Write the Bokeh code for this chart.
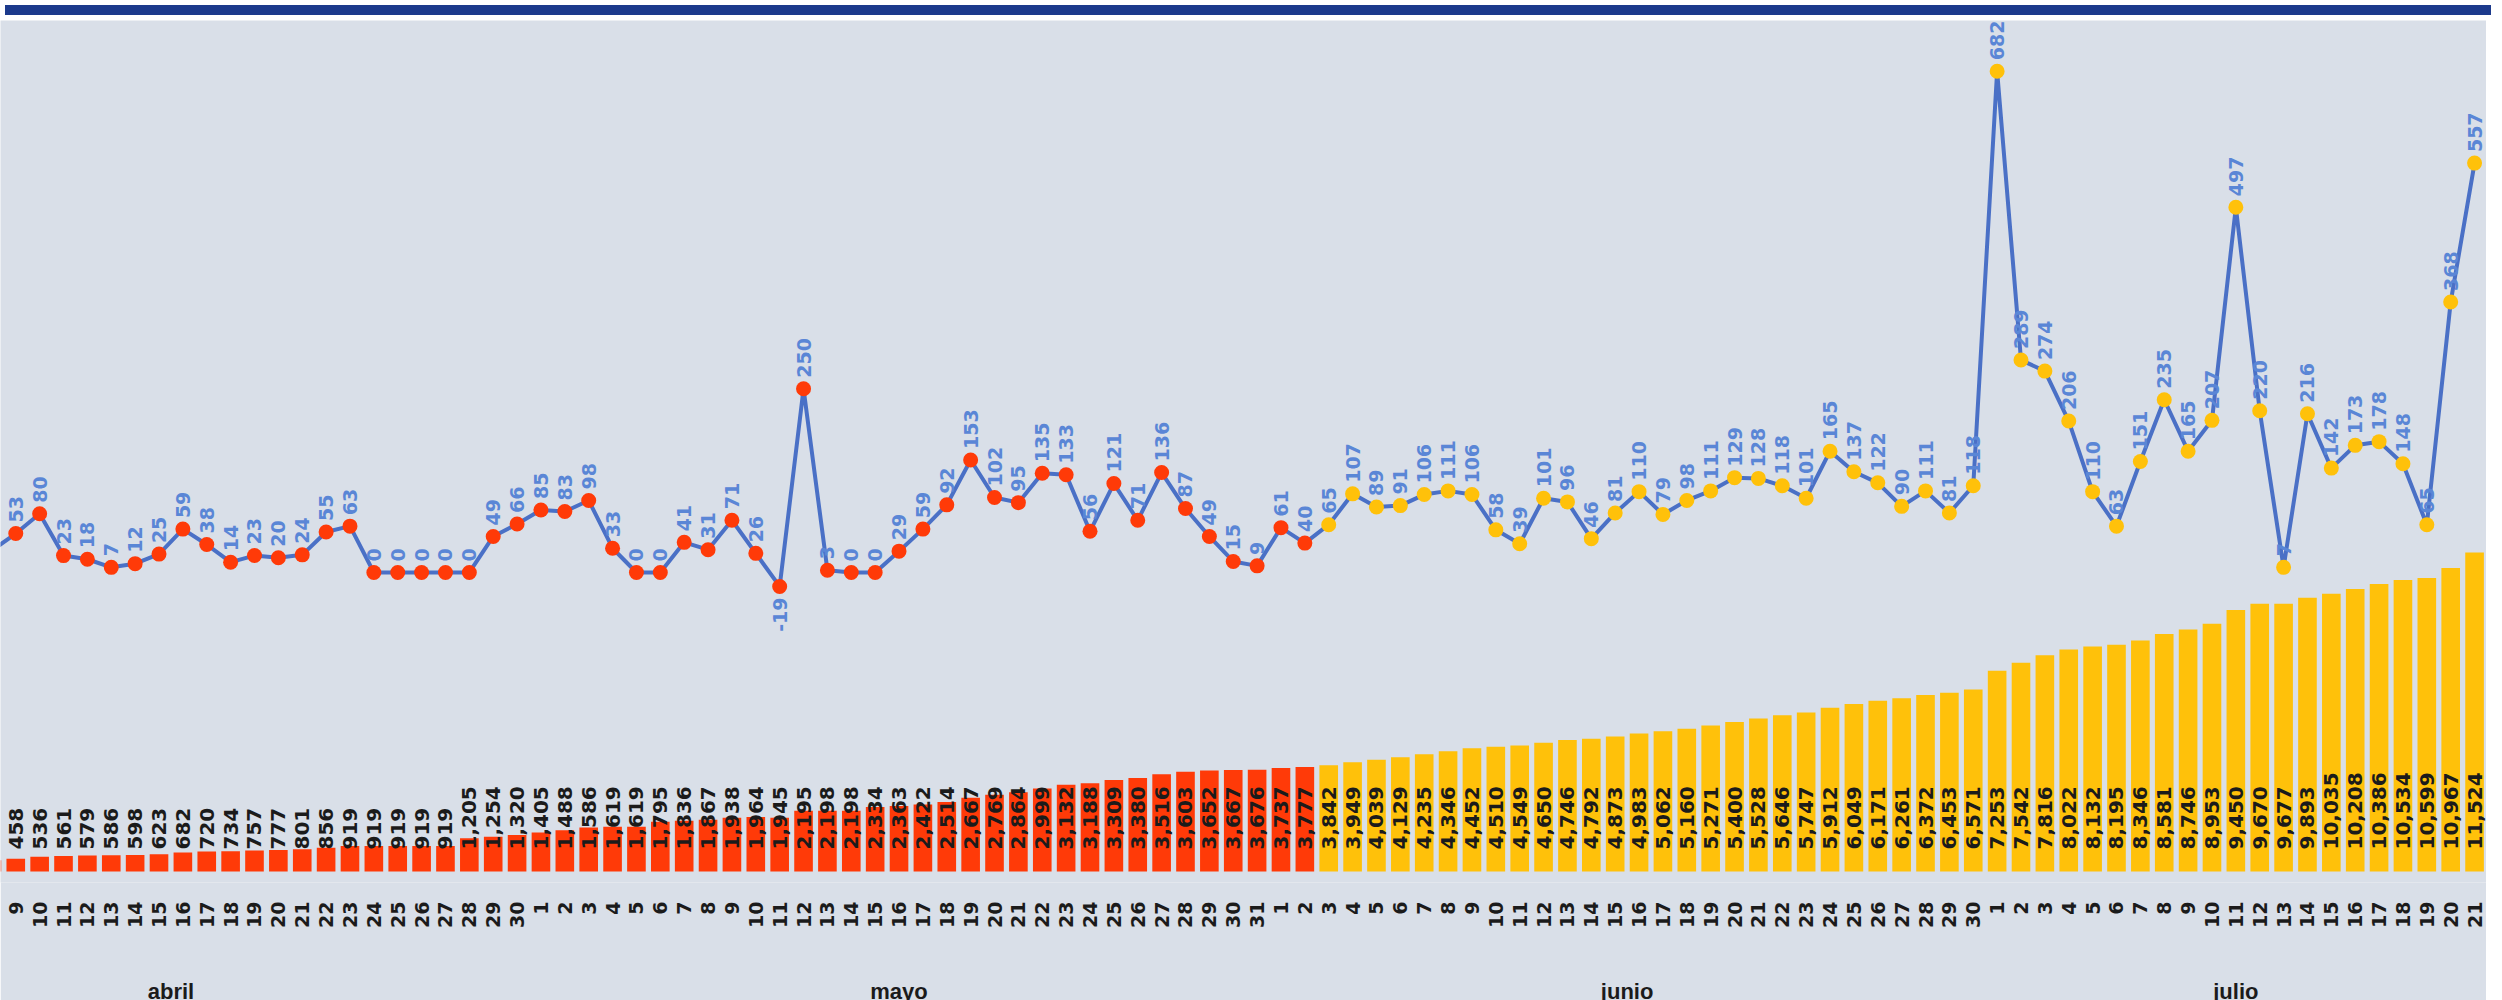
import numpy as np
import pandas as pd
from bokeh.plotting import figure
from bokeh.models import Range1d, LinearAxis, FixedTicker, ColumnDataSource, Div, LabelSet
from bokeh.layouts import column
from bokeh.embed import file_html
from bokeh.resources import INLINE
from bokeh.core.properties import value

# ---------------- data ----------------
fecha_inicio = "2020-04-08"
fecha_fin = "2020-07-21"
fecha_cambio_color = "2020-06-03"
meses = ["abril", "mayo", "junio", "julio"]

# daily new cases (line), Apr 8 .. Jul 21
diarios = [30,
           53, 80, 23, 18, 7, 12, 25, 59, 38, 14, 23, 20, 24, 55, 63, 0, 0, 0, 0, 0, 49, 66,
           85, 83, 98, 33, 0, 0, 41, 31, 71, 26, -19, 250, 3, 0, 0, 29, 59, 92, 153, 102,
           95, 135, 133, 56, 121, 71, 136, 87, 49, 15, 9,
           61, 40, 65, 107, 89, 91, 106, 111, 106, 58, 39, 101, 96, 46, 81, 110, 79, 98,
           111, 129, 128, 118, 101, 165, 137, 122, 90, 111, 81, 118,
           682, 289, 274, 206, 110, 63, 151, 235, 165, 207, 497, 220, 7, 216, 142, 173,
           178, 148, 65, 368, 557]

# cumulative cases (bars), Apr 8 .. Jul 21
acumulado = [405,
             458, 536, 561, 579, 586, 598, 623, 682, 720, 734, 757, 777, 801, 856, 919, 919,
             919, 919, 919, 1205, 1254, 1320,
             1405, 1488, 1586, 1619, 1619, 1795, 1836, 1867, 1938, 1964, 1945, 2195, 2198,
             2198, 2334, 2363, 2422, 2514, 2667, 2769, 2864, 2999, 3132, 3188, 3309, 3380,
             3516, 3603, 3652, 3667, 3676,
             3737, 3777, 3842, 3949, 4039, 4129, 4235, 4346, 4452, 4510, 4549, 4650, 4746,
             4792, 4873, 4983, 5062, 5160, 5271, 5400, 5528, 5646, 5747, 5912, 6049, 6171,
             6261, 6372, 6453, 6571,
             7253, 7542, 7816, 8022, 8132, 8195, 8346, 8581, 8746, 8953, 9450, 9670, 9677,
             9893, 10035, 10208, 10386, 10534, 10599, 10967, 11524]

# ---------------- style ----------------
BG = "#d9dfe8"
NAVY = "#1c3a8c"
ROJO = "#ff3a08"
AMARILLO = "#ffc10a"
AZUL_LINEA = "#4a70c6"
AZUL_ETIQ = "#5a86d6"
TXT = "#1b1b1b"
FUENTE = "DejaVu Sans"

fechas = pd.date_range(fecha_inicio, fecha_fin)
n = len(fechas)
xs = np.arange(n)
colores = [ROJO if f < pd.Timestamp(fecha_cambio_color) else AMARILLO for f in fechas]

X0, X1 = 0.36, 104.5
src = ColumnDataSource(dict(x=xs, acum=acumulado, diario=diarios, color=colores))

d_arr = np.array(diarios)
visible = xs >= X0
pos = visible & (d_arr >= 0)
neg = visible & (d_arr < 0)
lab_bar = ColumnDataSource(dict(x=xs[visible],
                                txt=[f"{v:,}" for v, ok in zip(acumulado, visible) if ok]))
lab_pos = ColumnDataSource(dict(x=xs[pos], y=d_arr[pos], txt=[str(v) for v in d_arr[pos]]))
lab_neg = ColumnDataSource(dict(x=xs[neg], y=d_arr[neg], txt=[str(v) for v in d_arr[neg]]))

p = figure(frame_width=2486, frame_height=862,
           x_range=Range1d(X0, X1), y_range=Range1d(-398, 30744),
           output_backend="svg", toolbar_location=None,
           x_axis_location=None, y_axis_location=None,
           background_fill_color=BG, border_fill_color=BG,
           outline_line_color=None, min_border=0)
p.extra_y_ranges = {"linea": Range1d(-421.8, 751)}
p.xgrid.grid_line_color = None
p.ygrid.grid_line_color = None

# bars
p.vbar(x="x", top="acum", width=0.78, fill_color="color", line_color=None, source=src)

# bar labels
p.add_layout(LabelSet(x="x", y=0, text="txt", source=lab_bar, angle=np.pi / 2,
                      text_align="left", text_baseline="middle", y_offset=22,
                      text_font=value(FUENTE), text_font_style="bold",
                      text_font_size="20px", text_color=TXT))

# line + markers
p.line(x="x", y="diario", source=src, y_range_name="linea",
       line_color=AZUL_LINEA, line_width=4)
p.scatter(x="x", y="diario", source=src, y_range_name="linea", size=15,
          fill_color="color", line_color=None)

# line labels
p.add_layout(LabelSet(x="x", y="y", text="txt", source=lab_pos, y_range_name="linea",
                      angle=np.pi / 2, text_align="left", text_baseline="middle",
                      y_offset=11, text_font=value(FUENTE), text_font_style="bold",
                      text_font_size="19px", text_color=AZUL_ETIQ))
p.add_layout(LabelSet(x="x", y="y", text="txt", source=lab_neg, y_range_name="linea",
                      angle=np.pi / 2, text_align="right", text_baseline="middle",
                      y_offset=-11, text_font=value(FUENTE), text_font_style="bold",
                      text_font_size="19px", text_color=AZUL_ETIQ))

# day axis
eje_dias = LinearAxis(ticker=FixedTicker(ticks=[int(i) for i in xs]),
                      major_label_overrides={int(i): str(f.day) for i, f in zip(xs, fechas)},
                      major_label_orientation=np.pi / 2, major_label_standoff=13,
                      major_label_text_font=FUENTE, major_label_text_font_style="bold",
                      major_label_text_font_size="19px", major_label_text_color=TXT,
                      axis_line_color=None, major_tick_line_color=None,
                      minor_tick_line_color=None)
p.add_layout(eje_dias, "below")

# month axis
centros = []
for k, nombre in enumerate(meses):
    m = 4 + k
    ini = pd.Timestamp(2020, m, 1)
    fin = min(ini + pd.offsets.MonthEnd(0), fechas[-1])
    i_ini = (ini - fechas[0]).days
    i_fin = (fin - fechas[0]).days
    centros.append((i_ini + i_fin) / 2.0)
eje_meses = LinearAxis(ticker=FixedTicker(ticks=centros),
                       major_label_overrides={float(c): nm for c, nm in zip(centros, meses)},
                       major_label_standoff=42,
                       major_label_text_font="Liberation Sans", major_label_text_font_style="bold",
                       major_label_text_font_size="22px", major_label_text_color=TXT,
                       axis_line_color=None, major_tick_line_color=None,
                       minor_tick_line_color=None)
p.add_layout(eje_meses, "below")

banda = Div(text="", width=2486, height=10, styles={"background-color": NAVY})
layout = column(banda, p, spacing=0)

open("out.html", "w").write(file_html(layout, INLINE))
